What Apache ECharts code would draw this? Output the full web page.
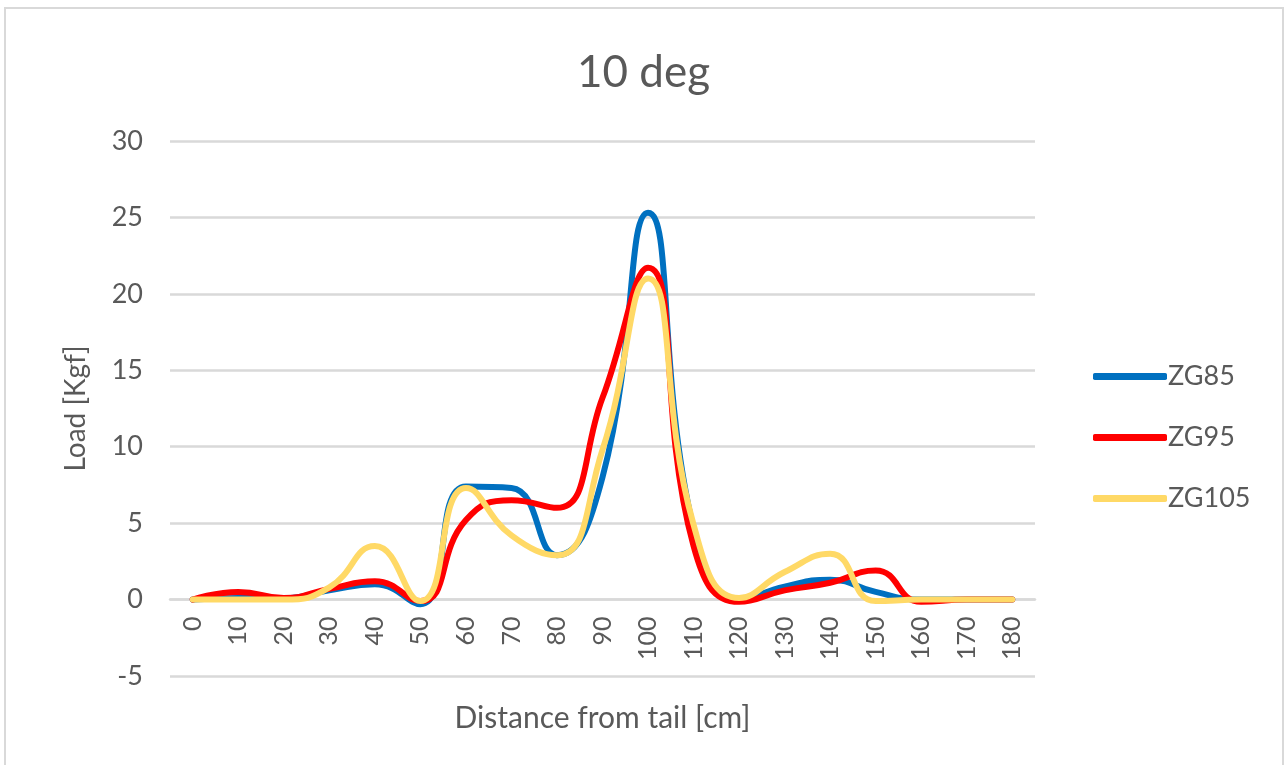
<!DOCTYPE html>
<html>
<head>
<meta charset="utf-8">
<script src="https://cdn.jsdelivr.net/npm/echarts@6/dist/echarts.min.js"></script>
<style>
  html, body { margin: 0; padding: 0; background: #fff; }
  #chart { width: 1287px; height: 765px; }
</style>
</head>
<body>
<div id="chart"></div>
<script>
// Distance from tail [cm]
const distances = ['0','10','20','30','40','50','60','70','80','90','100','110','120','130','140','150','160','170','180'];

// Load [Kgf] per configuration
const zg85  = [0, 0.1, 0.1, 0.6, 1.0, -0.3, 7.4, 7.3, 2.9, 8.0, 25.3, 4.6, 0, 0.85, 1.3, 0.5, 0, 0, 0];
const zg95  = [0, 0.5, 0.1, 0.7, 1.2, -0.1, 5.2, 6.5, 6.0, 13.2, 21.7, 3.5, -0.15, 0.6, 1.1, 1.9, -0.15, 0, 0];
const zg105 = [0, 0, 0, 0.8, 3.5, -0.1, 7.3, 4.2, 2.9, 9.8, 21.0, 4.9, 0.1, 1.8, 3.0, -0.1, 0, 0, 0];

const seriesNames = ['ZG85', 'ZG95', 'ZG105'];
const seriesColors = ['#0070C0', '#FF0000', '#FFD966'];

const FONT = 'Lato, "Open Sans", sans-serif';
const TEXT = '#595959';
const GRID = '#d9d9d9';

// The category axis sits on the zero line: distance from the -5 gridline up to 0
const Y_MIN = -5, Y_MAX = 30;
const GRID_TOP = 141, GRID_BOTTOM = 89;
const plotHeight = 765 - GRID_TOP - GRID_BOTTOM;
const zeroOffset = -plotHeight * (0 - Y_MIN) / (Y_MAX - Y_MIN);

const chart = echarts.init(document.getElementById('chart'), null, { renderer: 'canvas' });

function lineSeries(name, data, color) {
  return {
    name: name,
    type: 'line',
    data: data,
    smooth: 0.5,
    symbol: 'none',
    lineStyle: { color: color, width: 6, cap: 'round', join: 'round' },
    itemStyle: { color: color },
    z: 3
  };
}

chart.setOption({
  animation: false,
  backgroundColor: '#fff',
  graphic: [{
    type: 'rect',
    shape: { x: 5, y: 8, width: 1278, height: 780 },
    style: { fill: 'none', stroke: GRID, lineWidth: 2 },
    silent: true
  }],
  title: {
    text: '10 deg',
    left: 'center',
    top: 46,
    textStyle: { fontFamily: FONT, fontSize: 44, fontWeight: 'normal', color: TEXT }
  },
  legend: {
    orient: 'vertical',
    left: 1088,
    top: 358,
    itemWidth: 74,
    itemHeight: 7,
    itemGap: 34,
    icon: 'roundRect',
    data: seriesNames,
    textStyle: { fontFamily: FONT, fontSize: 27, color: TEXT, padding: [0, 0, 0, -4] }
  },
  grid: { left: 170, right: 252, top: GRID_TOP, bottom: GRID_BOTTOM, containLabel: false, outerBoundsMode: 'none' },
  xAxis: {
    type: 'category',
    data: distances,
    boundaryGap: true,
    position: 'bottom',
    offset: zeroOffset,
    name: 'Distance from tail [cm]',
    nameLocation: 'middle',
    nameGap: 104,
    nameTextStyle: { fontFamily: FONT, fontSize: 30, color: TEXT },
    axisLine: { onZero: false, lineStyle: { color: GRID, width: 2.5 } },
    axisTick: { show: false },
    axisLabel: {
      rotate: 90,
      margin: 17,
      interval: 0,
      fontFamily: FONT,
      fontSize: 25,
      color: TEXT
    },
    splitLine: { show: false }
  },
  yAxis: {
    type: 'value',
    min: Y_MIN,
    max: Y_MAX,
    interval: 5,
    name: 'Load [Kgf]',
    nameLocation: 'middle',
    nameGap: 80,
    nameTextStyle: { fontFamily: FONT, fontSize: 28, color: TEXT },
    axisLine: { show: false },
    axisTick: { show: false },
    axisLabel: { margin: 27, fontFamily: FONT, fontSize: 27, color: TEXT },
    splitLine: { lineStyle: { color: GRID, width: 2.5 } }
  },
  series: [
    lineSeries(seriesNames[0], zg85, seriesColors[0]),
    lineSeries(seriesNames[1], zg95, seriesColors[1]),
    lineSeries(seriesNames[2], zg105, seriesColors[2])
  ]
});
</script>
</body>
</html>
